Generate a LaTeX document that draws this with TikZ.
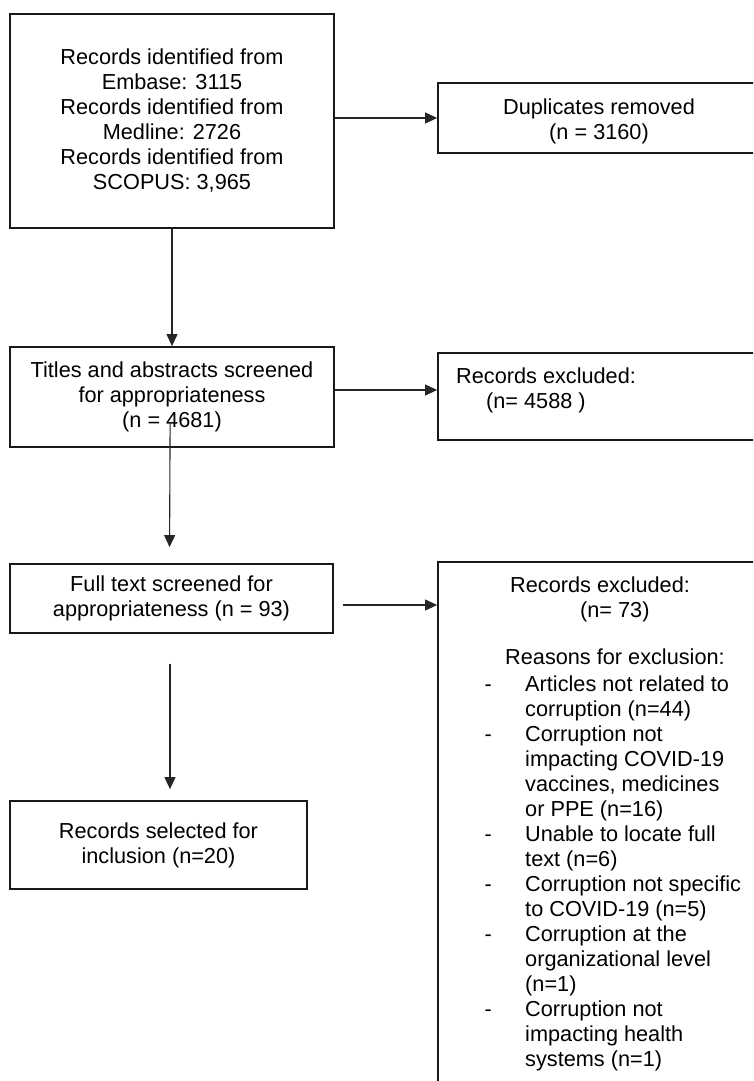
\documentclass[tikz,border=0pt]{standalone}
\usepackage{fontspec}
\setmainfont{Liberation Sans}
\usetikzlibrary{arrows.meta}
\newcommand\diagfs{\fontsize{21.7}{25}\selectfont}
\begin{document}
\begin{tikzpicture}[x=1pt,y=-1pt,
  box/.style={draw=black!90, line width=1.8pt, inner sep=0pt, align=center, font=\diagfs},
  lbl/.style={inner sep=0pt, font=\diagfs},
  arr/.style={draw=black!85, line width=1.1pt, -{Triangle[length=12pt,width=11pt]}}]
\useasboundingbox (0,0) rectangle (753,1081);
\clip (0,0) rectangle (753,1081);
% left column
\node[box, minimum width=324pt, minimum height=214pt] (b1) at (172,121)
  {Records identified from\\Embase: 3115\\Records identified from\\Medline: 2726\\Records identified from\\SCOPUS: 3,965};
\node[box, minimum width=324pt, minimum height=100pt] (b3) at (172,397)
  {Titles and abstracts screened\\for appropriateness\\(n = 4681)};
\node[box, minimum width=323pt, minimum height=69pt] (b4) at (171.5,598.5)
  {Full text screened for\\appropriateness (n = 93)};
\node[box, minimum width=297pt, minimum height=88pt] (b5) at (158.5,845)
  {Records selected for\\inclusion (n=20)};
% right column (boxes run past the page edge)
\node[box, minimum width=382pt, minimum height=70pt] (b2) at (629,118) {};
\node[lbl, anchor=base] (t2) at (599,114)
  {\begin{tabular}[t]{@{}c@{}}Duplicates removed\\(n = 3160)\end{tabular}};
\node[box, minimum width=382pt, minimum height=87pt] (b7) at (629,396.5) {};
\node[lbl, anchor=base west] (t7) at (456,383)
  {\begin{tabular}[t]{@{}l@{}}Records excluded:\\\hspace*{30pt}(n= 4588 )\end{tabular}};
\node[box, minimum width=382pt, minimum height=600pt] (b6) at (629,862) {};
\node[lbl, anchor=base west] (t6a) at (510,592)
  {\begin{tabular}[t]{@{}l@{}}Records excluded:\\\hspace*{70pt}(n= 73)\end{tabular}};
\node[lbl, anchor=base west] (t6b) at (505,664) {Reasons for exclusion:};
\node[lbl, anchor=base west] (t6c) at (484.4,691)
  {\begin{tabular}[t]{@{}l@{\hspace{33.4pt}}l@{}}
  -&Articles not related to\\
   &corruption (n=44)\\
  -&Corruption not\\
   &impacting COVID-19\\
   &vaccines, medicines\\
   &or PPE (n=16)\\
  -&Unable to locate full\\
   &text (n=6)\\
  -&Corruption not specific\\
   &to COVID-19 (n=5)\\
  -&Corruption at the\\
   &organizational level\\
   &(n=1)\\
  -&Corruption not\\
   &impacting health\\
   &systems (n=1)
  \end{tabular}};
% connectors
\draw[arr] (b1.east |- b2.west) -- (b2.west);
\draw[arr] (b1.south) -- (b3.north);
\draw[arr] ([yshift=7pt]b3.east) -- ([yshift=7pt]b3.east -| b7.west);
\draw[arr, shorten <=-25pt, shorten >=16pt] ([xshift=-2pt]b3.south) -- ([xshift=-2pt]b4.north);
\draw[arr, shorten <=9pt] ([yshift=-6.5pt]b4.east) -- ([yshift=-6.5pt]b4.east -| b6.west);
\draw[arr, shorten <=30pt, shorten >=11pt] ([xshift=-1.5pt]b4.south) -- ([xshift=-1.5pt]b4.south |- b5.north);
\end{tikzpicture}
\end{document}
